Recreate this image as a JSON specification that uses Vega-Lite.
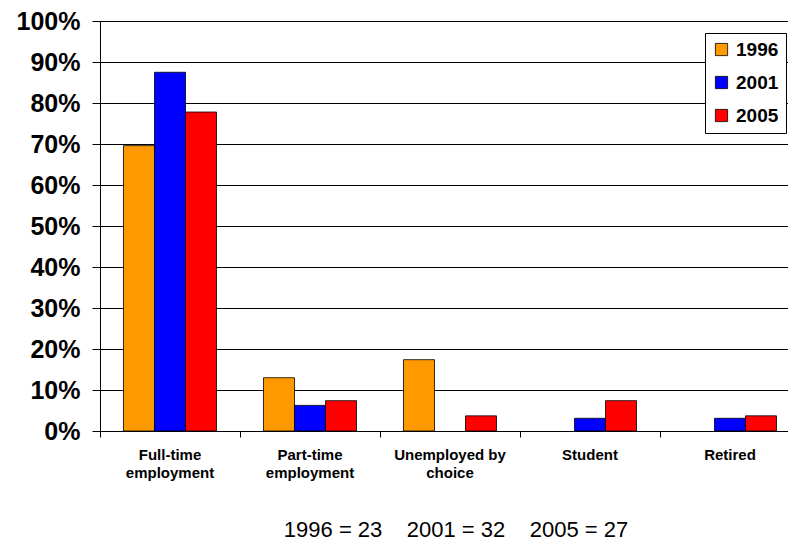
{
  "$schema": "https://vega.github.io/schema/vega-lite/v6.json",
  "width": 688,
  "height": 410,
  "autosize": {"type": "none"},
  "padding": {"left": 100, "top": 21, "right": 0, "bottom": 113},
  "background": "white",
  "config": {
    "font": "Liberation Sans",
    "view": {"stroke": null}
  },
  "title": {
    "text": "1996 = 23\u00a0\u00a0\u00a0\u00a02001 = 32\u00a0\u00a0\u00a0\u00a02005 = 27",
    "orient": "bottom",
    "anchor": "middle",
    "fontSize": 22,
    "fontWeight": "normal",
    "font": "Liberation Sans",
    "color": "black",
    "offset": 40,
    "dx": 12
  },
  "data": {
    "values": [
      {"category": "Full-time employment", "year": "1996", "share": 0.696},
      {"category": "Full-time employment", "year": "2001", "share": 0.875},
      {"category": "Full-time employment", "year": "2005", "share": 0.778},
      {"category": "Part-time employment", "year": "1996", "share": 0.130},
      {"category": "Part-time employment", "year": "2001", "share": 0.0625},
      {"category": "Part-time employment", "year": "2005", "share": 0.074},
      {"category": "Unemployed by choice", "year": "1996", "share": 0.174},
      {"category": "Unemployed by choice", "year": "2001", "share": 0},
      {"category": "Unemployed by choice", "year": "2005", "share": 0.037},
      {"category": "Student", "year": "1996", "share": 0},
      {"category": "Student", "year": "2001", "share": 0.031},
      {"category": "Student", "year": "2005", "share": 0.074},
      {"category": "Retired", "year": "1996", "share": 0},
      {"category": "Retired", "year": "2001", "share": 0.031},
      {"category": "Retired", "year": "2005", "share": 0.037}
    ]
  },
  "mark": {"type": "bar", "stroke": "black", "strokeWidth": 0.8},
  "encoding": {
    "x": {
      "field": "category",
      "type": "nominal",
      "sort": null,
      "scale": {"paddingInner": 0, "paddingOuter": 0, "range": [0, 700]},
      "axis": {
        "title": null,
        "labelAngle": 0,
        "bandPosition": 0,
        "labelExpr": "datum.label == 'Unemployed by choice' ? ['Unemployed by', 'choice'] : split(datum.label, ' ')",
        "labelFont": "Liberation Sans",
        "labelFontSize": 15,
        "labelFontWeight": "bold",
        "labelColor": "black",
        "labelPadding": 10,
        "labelLineHeight": 18,
        "domainColor": "black",
        "domainWidth": 1,
        "tickColor": "black",
        "tickSize": 6,
        "grid": false
      }
    },
    "xOffset": {
      "field": "year",
      "type": "nominal",
      "scale": {"paddingInner": 0, "paddingOuter": 0.758}
    },
    "y": {
      "field": "share",
      "type": "quantitative",
      "scale": {"domain": [0, 1], "nice": false},
      "axis": {
        "title": null,
        "format": ".0%",
        "values": [0, 0.1, 0.2, 0.3, 0.4, 0.5, 0.6, 0.7, 0.8, 0.9, 1],
        "labelFont": "Liberation Sans",
        "labelFontSize": 25,
        "labelFontWeight": "bold",
        "labelColor": "black",
        "labelPadding": 12,
        "domainColor": "black",
        "tickColor": "black",
        "tickSize": 8,
        "grid": true,
        "gridColor": "black",
        "gridWidth": 1
      }
    },
    "strokeOpacity": {
      "condition": {"test": "datum.share == 0", "value": 0},
      "value": 1
    },
    "color": {
      "field": "year",
      "type": "nominal",
      "scale": {"domain": ["1996", "2001", "2005"], "range": ["#FF9900", "#0000FF", "#FF0000"]},
      "legend": {
        "title": null,
        "orient": "none",
        "legendX": 605,
        "legendY": 12,
        "fillColor": "white",
        "strokeColor": "black",
        "padding": 7,
        "symbolType": "square",
        "symbolSize": 150,
        "symbolStrokeColor": "black",
        "symbolStrokeWidth": 0.8,
        "symbolOpacity": 1,
        "labelOffset": 5,
        "labelFont": "Liberation Sans",
        "labelFontSize": 19,
        "labelFontWeight": "bold",
        "labelColor": "black",
        "rowPadding": 13
      }
    }
  }
}
